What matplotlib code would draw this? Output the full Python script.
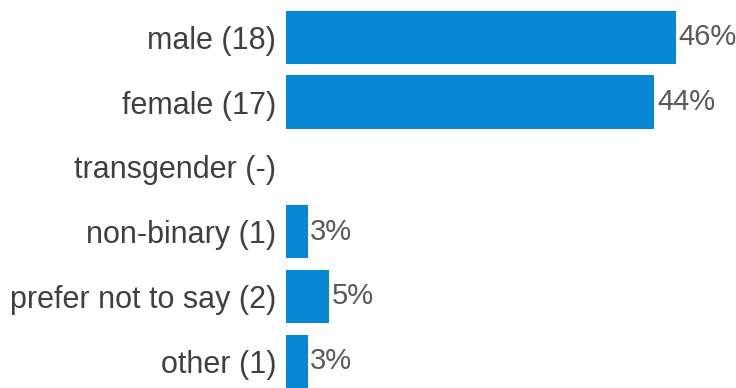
import numpy as np
import matplotlib
matplotlib.use('Agg')
from matplotlib import pyplot as plt

categories = ['male', 'female', 'transgender', 'non-binary', 'prefer not to say', 'other']
counts = [18, 17, 0, 1, 2, 1]

total = sum(counts)
percents = [c / total * 100 for c in counts]
labels = [f'{cat} ({c if c else "-"})' for cat, c in zip(categories, counts)]

plt.rcParams['font.family'] = ['Liberation Sans', 'DejaVu Sans']

fig = plt.figure(figsize=(7.36, 3.88), dpi=100)
ax = fig.add_axes([286 / 736, -5.5 / 388, 450 / 736, 388.6 / 388])

y = np.arange(len(categories))
ax.barh(y, percents, height=0.82, color='#0888D4')
ax.set_ylim(len(categories) - 0.5, -0.5)
ax.set_xlim(0, 46.15 * 450 / 390)

for yi, p, c in zip(y, percents, counts):
    if c == 0:
        continue
    ax.text(p + 0.3, yi, f'{p:.0f}%', va='center', ha='left',
            fontsize=21, color='#595959')

ax.set_yticks(y)
ax.set_yticklabels(labels, fontsize=22, color='#404040')
ax.tick_params(axis='y', length=0, pad=7)
ax.set_xticks([])
for s in ax.spines.values():
    s.set_visible(False)

fig.savefig('out.png', dpi=100)
